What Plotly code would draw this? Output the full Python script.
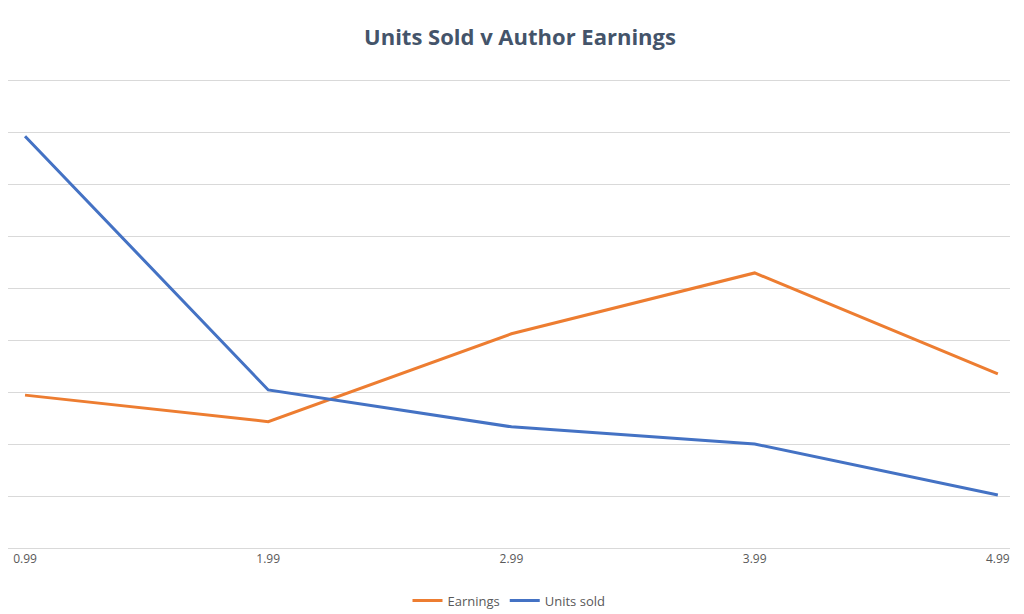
import plotly.graph_objects as go

prices = ["0.99", "1.99", "2.99", "3.99", "4.99"]
earnings = [2.94, 2.43, 4.12, 5.29, 3.35]
units_sold = [7.92, 3.04, 2.33, 2.0, 1.02]

fig = go.Figure()
fig.add_trace(go.Scatter(x=list(range(5)), y=earnings, mode="lines", name="Earnings",
                         line=dict(color="#ED7D31", width=3)))
fig.add_trace(go.Scatter(x=list(range(5)), y=units_sold, mode="lines", name="Units sold",
                         line=dict(color="#4472C4", width=3)))

fig.update_layout(
    width=1024, height=614,
    paper_bgcolor="white", plot_bgcolor="white",
    title=dict(text="<b>Units Sold v Author Earnings</b>", x=0.5, y=0.965,
               font=dict(size=22, color="#44546A", family="Open Sans")),
    margin=dict(l=0, r=22, t=71, b=74),
    font=dict(family="Open Sans", color="#595959", size=12),
    legend=dict(orientation="h", x=0.5, xanchor="center", y=-0.08, yanchor="top",
                font=dict(size=13)),
    showlegend=True,
)
fig.update_xaxes(tickmode="array", tickvals=list(range(5)), ticktext=prices,
                 range=[-0.07, 4.05], showgrid=False, showline=True,
                 linecolor="#D9D9D9", ticks="", zeroline=False)
fig.update_yaxes(range=[0, 9.02], dtick=1, showticklabels=False, gridcolor="#D9D9D9",
                 zeroline=False)

fig.write_html("out.html")
